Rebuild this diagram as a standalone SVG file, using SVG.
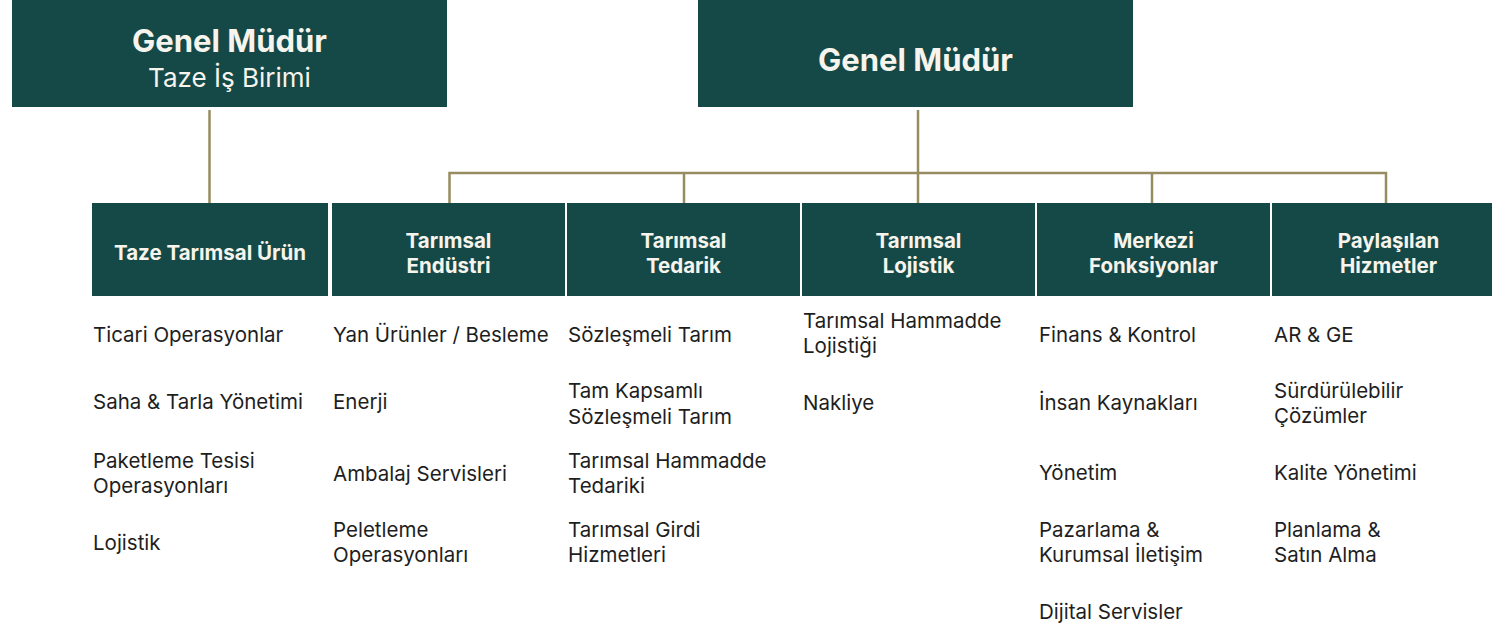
<svg xmlns="http://www.w3.org/2000/svg" width="1492" height="632" viewBox="0 0 1492 632">
<style>
.box{fill:#154947}
.hd{fill:#f6f4ec;font-family:Inter,"Noto Sans",sans-serif;font-weight:700;text-anchor:middle}
.t1{font-size:31px}
.sub{font-size:26px;font-weight:400}
.h2{font-size:20.5px}
.tx{fill:#1e1e1e;font-family:Inter,"Noto Sans",sans-serif;font-size:20.5px}
.ln{stroke:#978c5f;stroke-width:2.5;fill:none}
</style>
<rect width="1492" height="632" fill="#ffffff"/>
<g id="connectors">
<path class="ln" d="M209.5 110V203"/>
<path class="ln" d="M918 110V173"/>
<path class="ln" d="M449.5 203V173H1386V203"/>
<path class="ln" d="M684 173V203M918 173V203M1152 173V203"/>
</g>
<g id="gm-taze">
<rect class="box" x="12" y="0" width="435" height="107"/>
<text class="hd t1" x="229.5" y="52">Genel Müdür</text>
<text class="hd sub" x="229.5" y="87">Taze İş Birimi</text>
</g>
<g id="gm">
<rect class="box" x="698" y="0" width="435" height="107"/>
<text class="hd t1" x="915.5" y="71">Genel Müdür</text>
</g>
<g id="taze-tarimsal-urun">
<rect class="box" x="92" y="203" width="236" height="93"/>
<text class="hd h2" x="210" y="260">Taze Tarımsal Ürün</text>
<text class="tx" x="93" y="342">Ticari Operasyonlar</text>
<text class="tx" x="93" y="409">Saha &amp; Tarla Yönetimi</text>
<text class="tx" x="93" y="468">Paketleme Tesisi</text>
<text class="tx" x="93" y="493">Operasyonları</text>
<text class="tx" x="93" y="550">Lojistik</text>
</g>
<g id="tarimsal-endustri">
<rect class="box" x="332" y="203" width="233" height="93"/>
<text class="hd h2" x="448.5" y="248">Tarımsal</text>
<text class="hd h2" x="448.5" y="273">Endüstri</text>
<text class="tx" x="333" y="342">Yan Ürünler / Besleme</text>
<text class="tx" x="333" y="409">Enerji</text>
<text class="tx" x="333" y="481">Ambalaj Servisleri</text>
<text class="tx" x="333" y="537">Peletleme</text>
<text class="tx" x="333" y="562">Operasyonları</text>
</g>
<g id="tarimsal-tedarik">
<rect class="box" x="567" y="203" width="233" height="93"/>
<text class="hd h2" x="683.5" y="248">Tarımsal</text>
<text class="hd h2" x="683.5" y="273">Tedarik</text>
<text class="tx" x="568" y="342">Sözleşmeli Tarım</text>
<text class="tx" x="568" y="398">Tam Kapsamlı</text>
<text class="tx" x="568" y="424">Sözleşmeli Tarım</text>
<text class="tx" x="568" y="468">Tarımsal Hammadde</text>
<text class="tx" x="568" y="493">Tedariki</text>
<text class="tx" x="568" y="537">Tarımsal Girdi</text>
<text class="tx" x="568" y="562">Hizmetleri</text>
</g>
<g id="tarimsal-lojistik">
<rect class="box" x="802" y="203" width="233" height="93"/>
<text class="hd h2" x="918.5" y="248">Tarımsal</text>
<text class="hd h2" x="918.5" y="273">Lojistik</text>
<text class="tx" x="803" y="328">Tarımsal Hammadde</text>
<text class="tx" x="803" y="353">Lojistiği</text>
<text class="tx" x="803" y="410">Nakliye</text>
</g>
<g id="merkezi-fonksiyonlar">
<rect class="box" x="1037" y="203" width="233" height="93"/>
<text class="hd h2" x="1153.5" y="248">Merkezi</text>
<text class="hd h2" x="1153.5" y="273">Fonksiyonlar</text>
<text class="tx" x="1039" y="342">Finans &amp; Kontrol</text>
<text class="tx" x="1039" y="410">İnsan Kaynakları</text>
<text class="tx" x="1039" y="480">Yönetim</text>
<text class="tx" x="1039" y="537">Pazarlama &amp;</text>
<text class="tx" x="1039" y="562">Kurumsal İletişim</text>
<text class="tx" x="1039" y="619">Dijital Servisler</text>
</g>
<g id="paylasilan-hizmetler">
<rect class="box" x="1272" y="203" width="233" height="93"/>
<text class="hd h2" x="1388.5" y="248">Paylaşılan</text>
<text class="hd h2" x="1388.5" y="273">Hizmetler</text>
<text class="tx" x="1274" y="342">AR &amp; GE</text>
<text class="tx" x="1274" y="398">Sürdürülebilir</text>
<text class="tx" x="1274" y="423">Çözümler</text>
<text class="tx" x="1274" y="480">Kalite Yönetimi</text>
<text class="tx" x="1274" y="537">Planlama &amp;</text>
<text class="tx" x="1274" y="562">Satın Alma</text>
</g>
</svg>
